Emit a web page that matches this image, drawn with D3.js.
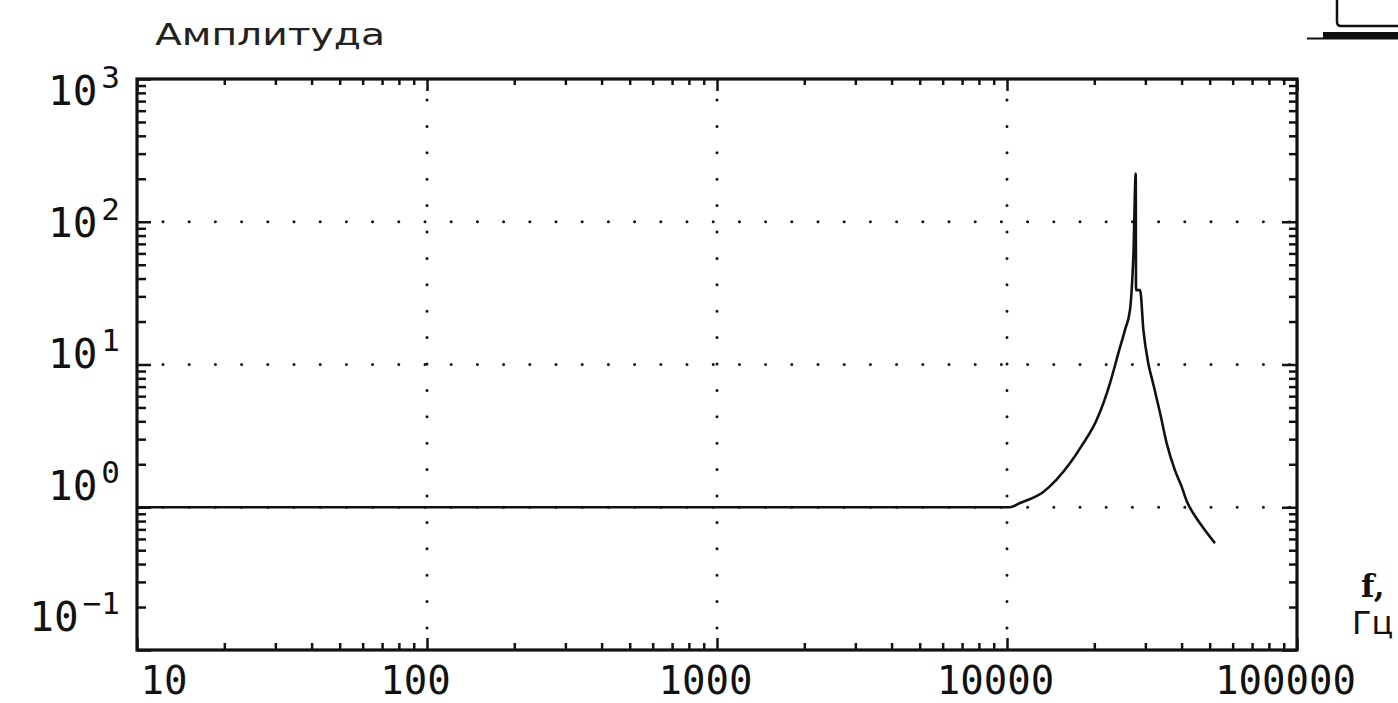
<!DOCTYPE html>
<html>
<head>
<meta charset="utf-8">
<script src="https://cdn.jsdelivr.net/npm/d3@7"></script>
<style>
  body { margin: 0; background: white; }
  svg { display: block; background: white; }
</style>
</head>
<body>
<svg width="1398" height="703"></svg>
<script>
// frequency response
let freqs = [10, 10240, 11090, 13340, 16480, 18110, 20370, 22650, 24210, 25520, 26550, 26910,
  27270, 27800, 27850, 28770, 29530, 30700, 31900, 33730, 35540, 37930, 39990, 41680,
  44000, 46330, 52140]
let amps = [1, 1, 1.07, 1.28, 2.03, 2.7, 4.08, 7.38, 12.0, 17.5, 24.1, 33.2,
  56.9, 218, 33.2, 33.2, 17.5, 10.2, 7.38, 4.55, 2.8, 1.82, 1.4, 1.1,
  0.9, 0.77, 0.56]

let xTicks = [10, 100, 1000, 10000, 100000]
let xTickLabels = ["10", "100", "1000", "10000", "100000"]
let yTicks = [0.1, 1, 10, 100, 1000]
let yExponents = ["−1", "0", "1", "2", "3"]
let gridX = [100, 1000, 10000]
let gridY = [1, 10, 100]

let svg = d3.select("svg")

let x = d3.scaleLog().domain([10, 100000]).range([137, 1297])
let y = d3.scaleLog().domain([0.1, 1000]).range([650, 79])
// the y labels sit in a slightly tighter band than the grid lines
let labelY = d3.scaleLog().domain([0.1, 1000]).range([616, 90])

let [x0, x1] = x.range()
let [y0, y1] = y.range()

let minors = (lo, hi) => {
  let out = []
  for (let d = lo; d < hi; d *= 10)
    for (let k = 2; k <= 9; k++) out.push(d * k)
  return out
}
let minorX = minors(10, 100000)
let minorY = minors(0.1, 1000)

let noDomain = g => g.select(".domain").remove()
let tickStyle = g => g.selectAll(".tick line").attr("stroke", "#111").attr("stroke-width", 2.5)

// dotted grid
svg.append("g")
  .selectAll("line")
  .data(gridX)
  .join("line")
  .attr("x1", d => x(d))
  .attr("x2", d => x(d))
  .attr("y1", y1)
  .attr("y2", y0)
  .style("stroke", "#111")
  .style("stroke-width", 3)
  .style("stroke-linecap", "round")
  .style("stroke-dasharray", "0 26.4")
  .style("stroke-dashoffset", 5.4)

svg.append("g")
  .selectAll("line")
  .data(gridY)
  .join("line")
  .attr("x1", x0)
  .attr("x2", x1)
  .attr("y1", d => y(d))
  .attr("y2", d => y(d))
  .style("stroke", "#111")
  .style("stroke-width", 3)
  .style("stroke-linecap", "round")
  .style("stroke-dasharray", "0 26.2")
  .style("stroke-dashoffset", 0.2)

// inward ticks on all four sides
svg.append("g").attr("transform", `translate(0,${y0})`)
  .call(d3.axisBottom(x).tickValues(minorX).tickSize(-7).tickFormat(""))
  .call(noDomain).call(tickStyle)
svg.append("g").attr("transform", `translate(0,${y0})`)
  .call(d3.axisBottom(x).tickValues(xTicks).tickSize(-12).tickFormat(""))
  .call(noDomain).call(tickStyle)
svg.append("g").attr("transform", `translate(0,${y1})`)
  .call(d3.axisTop(x).tickValues(minorX).tickSize(-6).tickFormat(""))
  .call(noDomain).call(tickStyle)
svg.append("g").attr("transform", `translate(0,${y1})`)
  .call(d3.axisTop(x).tickValues(xTicks).tickSize(-12).tickFormat(""))
  .call(noDomain).call(tickStyle)

svg.append("g").attr("transform", `translate(${x0},0)`)
  .call(d3.axisLeft(y).tickValues(minorY).tickSize(-9).tickFormat(""))
  .call(noDomain).call(tickStyle)
svg.append("g").attr("transform", `translate(${x0},0)`)
  .call(d3.axisLeft(y).tickValues(yTicks).tickSize(-14).tickFormat(""))
  .call(noDomain).call(tickStyle)
svg.append("g").attr("transform", `translate(${x1},0)`)
  .call(d3.axisRight(y).tickValues(minorY).tickSize(-8).tickFormat(""))
  .call(noDomain).call(tickStyle)
svg.append("g").attr("transform", `translate(${x1},0)`)
  .call(d3.axisRight(y).tickValues(yTicks).tickSize(-15).tickFormat(""))
  .call(noDomain).call(tickStyle)

// frame
svg.append("rect")
  .attr("x", x0)
  .attr("y", y1)
  .attr("width", x1 - x0)
  .attr("height", y0 - y1)
  .style("fill", "none")
  .style("stroke", "#111")
  .style("stroke-width", 3.2)

// x tick labels
svg.append("g").attr("transform", `translate(0,${y0})`)
  .call(d3.axisBottom(x).tickValues(xTicks).tickSize(0).tickFormat((d, i) => xTickLabels[i]))
  .call(noDomain)
  .call(g => g.selectAll(".tick text")
    .attr("y", 44)
    .attr("dy", 0)
    .attr("x", (d, i) => i === 0 ? 3 : -12)
    .attr("text-anchor", (d, i) => i === 0 ? "start" : "middle")
    .attr("fill", "#111")
    .style("font-family", "'DejaVu Sans Mono', monospace")
    .style("font-size", "39px"))

// y tick labels: 10 with a raised exponent
svg.append("g").attr("transform", `translate(${x0},0)`)
  .call(d3.axisLeft(y).tickValues(yTicks).tickSize(0).tickFormat(""))
  .call(noDomain)
  .call(g => g.selectAll(".tick text").each(function (d, i) {
    let t = d3.select(this)
      .attr("x", -17)
      .attr("y", labelY(d) - y(d))
      .attr("dy", "0.36em")
      .attr("text-anchor", "end")
      .attr("fill", "#111")
      .style("font-family", "'DejaVu Sans Mono', monospace")
      .style("font-size", "41px")
      .text("")
    t.append("tspan").text("10")
    t.append("tspan")
      .attr("dx", 4)
      .attr("dy", -17)
      .style("font-size", "31px")
      .text(yExponents[i])
  }))

// the response curve
let line = d3.line()
  .x((d, i) => x(freqs[i]))
  .y((d, i) => y(amps[i]))
  .curve(d3.curveMonotoneX)

svg.append("path")
  .datum(amps)
  .attr("d", line)
  .style("fill", "none")
  .style("stroke", "#111")
  .style("stroke-width", 2.6)
  .style("stroke-linejoin", "round")

// titles
svg.append("text")
  .attr("x", 155)
  .attr("y", 45)
  .attr("textLength", 230)
  .attr("lengthAdjust", "spacingAndGlyphs")
  .style("font-family", "'DejaVu Sans', sans-serif")
  .style("font-size", "31px")
  .style("fill", "#222")
  .text("Амплитуда")

svg.append("text")
  .attr("x", 1361)
  .attr("y", 597)
  .style("font-family", "'DejaVu Serif', serif")
  .style("font-weight", "bold")
  .style("font-size", "31px")
  .style("fill", "#111")
  .text("f,")

svg.append("text")
  .attr("x", 1352)
  .attr("y", 634)
  .style("font-family", "'DejaVu Sans', sans-serif")
  .style("font-size", "32px")
  .style("fill", "#111")
  .text("Гц")

// bit of a drawing cut off at the top right corner
svg.append("path")
  .attr("d", "M1337,0 V22 Q1337,26 1341,26 H1398")
  .style("fill", "none")
  .style("stroke", "#111")
  .style("stroke-width", 2.5)
svg.append("rect")
  .attr("x", 1323)
  .attr("y", 32)
  .attr("width", 75)
  .attr("height", 6)
  .style("fill", "#111")
svg.append("line")
  .attr("x1", 1307)
  .attr("x2", 1398)
  .attr("y1", 38.5)
  .attr("y2", 38.5)
  .style("stroke", "#111")
  .style("stroke-width", 2)
</script>
</body>
</html>
